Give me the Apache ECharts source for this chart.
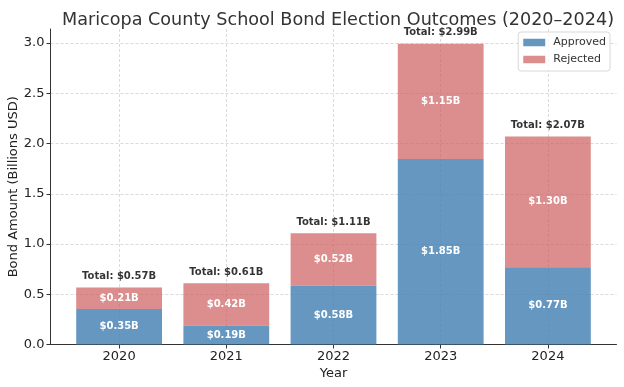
<!DOCTYPE html>
<html>
<head>
<meta charset="utf-8">
<script src="https://cdn.jsdelivr.net/npm/echarts@6/dist/echarts.min.js"></script>
<style>html,body{margin:0;padding:0;background:#fff}#c{width:624px;height:387px}</style>
</head>
<body>
<div id="c"></div>
<script>
const years = ['2020', '2021', '2022', '2023', '2024'];
const approved = [0.354, 0.19, 0.584, 1.846, 0.77];
const rejected = [0.214, 0.42, 0.524, 1.146, 1.30];
const yTicks = [0, 0.5, 1.0, 1.5, 2.0, 2.5, 3.0];
const xPositions = [0, 1, 2, 3, 4];

const totals = approved.map((a, i) => a + rejected[i]);
const font = 'DejaVu Sans';
const money = v => '$' + v.toFixed(2) + 'B';

const chart = echarts.init(document.getElementById('c'), null, {renderer: 'canvas'});
chart.setOption({
  animation: false,
  backgroundColor: '#fff',
  title: {
    text: 'Maricopa County School Bond Election Outcomes (2020\u20132024)',
    left: 333, top: 6, textAlign: 'center',
    textStyle: {fontFamily: font, fontSize: 17.6, fontWeight: 'normal', color: '#333'}
  },
  grid: {left: 50.5, right: 7.5, top: 29, bottom: 42.5, containLabel: false, outerBoundsMode: 'none'},
  legend: {
    data: ['Approved', 'Rejected'],
    orient: 'vertical', right: 14, top: 32,
    padding: [4, 4, 5, 5], itemGap: 4, itemWidth: 22, itemHeight: 7.5,
    borderColor: '#d8d8d8', borderWidth: 1, borderRadius: 3, backgroundColor: 'rgba(255,255,255,0.8)',
    icon: 'rect',
    textStyle: {fontFamily: font, fontSize: 11, lineHeight: 13, color: '#333', padding: [0, 0, 0, 3]}
  },
  xAxis: {
    type: 'value', min: -0.64, max: 4.64,
    name: 'Year', nameLocation: 'middle', nameGap: 23, nameMoveOverlap: false,
    nameTextStyle: {fontFamily: font, fontSize: 13, color: '#222'},
    axisLine: {show: true, onZero: false, lineStyle: {color: '#333', width: 1}},
    axisTick: {show: true, customValues: xPositions, length: 4, lineStyle: {color: '#333'}},
    axisLabel: {customValues: xPositions, formatter: v => years[Math.round(v)], fontFamily: font, fontSize: 13, color: '#222', margin: 6},
    splitLine: {show: true, lineStyle: {color: '#d2d2d2', type: [3, 2], width: 0.8}}
  },
  yAxis: {
    type: 'value', min: 0, max: 3.14,
    name: 'Bond Amount (Billions USD)', nameLocation: 'middle', nameGap: 30, nameMoveOverlap: false,
    nameTextStyle: {fontFamily: font, fontSize: 13, color: '#222'},
    axisLine: {show: true, onZero: false, lineStyle: {color: '#333', width: 1}},
    axisTick: {show: true, customValues: yTicks, length: 4, lineStyle: {color: '#333'}},
    axisLabel: {customValues: yTicks, formatter: v => v.toFixed(1), fontFamily: font, fontSize: 13, color: '#222', margin: 6},
    splitLine: {show: true, lineStyle: {color: '#d2d2d2', type: [3, 2], width: 0.8}}
  },
  series: [
    {
      name: 'Approved', type: 'bar', stack: 'total', barWidth: 85.8, z: 1,
      dimensions: ['amount', 'pos'], encode: {x: 'pos', y: 'amount'},
      data: approved.map((v, i) => [v, xPositions[i]]),
      itemStyle: {color: 'rgba(70,130,180,0.83)'},
      label: {show: true, position: 'inside', formatter: p => money(p.data[0]), fontFamily: font, fontSize: 10, fontWeight: 'bold', color: '#fff'}
    },
    {
      name: 'Rejected', type: 'bar', stack: 'total', barWidth: 85.8, z: 1,
      dimensions: ['amount', 'pos'], encode: {x: 'pos', y: 'amount'},
      data: rejected.map((v, i) => [v, xPositions[i]]),
      itemStyle: {color: 'rgba(205,92,92,0.7)'},
      label: {show: true, position: 'inside', formatter: p => money(p.data[0]), fontFamily: font, fontSize: 10, fontWeight: 'bold', color: '#fff'}
    },
    {
      name: 'Total', type: 'scatter', symbolSize: 0, silent: true,
      data: totals.map((v, i) => [xPositions[i], v]),
      label: {show: true, position: 'top', distance: 6, formatter: p => 'Total: ' + money(p.data[1]), fontFamily: font, fontSize: 10, fontWeight: 'bold', color: '#000'}
    }
  ]
});
</script>
</body>
</html>
